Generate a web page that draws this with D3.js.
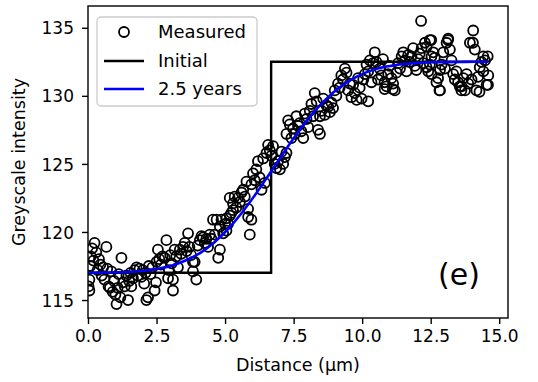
<!DOCTYPE html>
<html><head><meta charset="utf-8">
<script src="https://cdn.jsdelivr.net/npm/d3@7"></script>
<style>body{margin:0;background:#fff}svg{display:block}text{font-family:"DejaVu Sans",sans-serif;fill:#000}</style>
</head><body><svg id="c" width="538" height="382"></svg>
<script>
const measuredX = [0.02,0.05,0.05,0.08,0.1,0.15,0.24,0.2,0.3,0.35,0.4,0.45,0.5,0.55,0.6,0.67,0.7,0.75,0.8,0.85,0.9,0.95,1.0,1.04,1.08,1.12,1.18,1.22,1.28,1.34,1.4,1.46,1.5,
1.55,1.58,1.64,1.7,1.77,1.82,1.88,1.95,2.0,2.05,2.1,2.13,2.19,2.22,2.28,2.35,2.43,2.48,2.5,2.55,2.6,2.66,2.72,2.8,2.86,2.92,2.95,
3.0,3.05,3.1,3.1,3.16,3.22,3.28,3.35,3.4,3.47,3.53,3.6,3.65,3.7,3.76,3.83,3.83,3.89,3.95,4.0,4.08,4.14,4.2,4.26,4.32,4.38,4.44,4.5,
4.56,4.62,4.69,4.75,4.81,4.81,4.87,4.93,5.0,5.05,5.05,5.11,5.17,5.17,5.23,5.29,5.29,5.35,5.41,5.47,5.54,5.6,5.66,5.72,5.78,5.84,5.84,5.9,5.96,5.96,6.02,
6.08,6.14,6.2,6.26,6.33,6.39,6.45,6.51,6.57,6.63,6.69,6.75,6.81,6.87,6.93,7.0,7.06,7.12,7.18,7.24,7.24,7.3,7.36,7.42,7.48,
7.54,7.6,7.66,7.72,7.78,7.85,7.91,7.97,8.03,8.09,8.15,8.21,8.27,8.34,8.39,8.46,8.46,8.52,8.58,8.64,8.7,8.76,8.82,8.88,8.94,
9.0,9.06,9.12,9.18,9.24,9.3,9.37,9.43,9.49,9.55,9.61,9.67,9.73,9.8,9.85,9.91,9.98,10.04,10.1,10.16,10.22,10.22,10.28,10.34,10.4,10.46,
10.52,10.58,10.64,10.7,10.76,10.82,10.82,10.89,10.95,11.0,11.07,11.12,11.13,11.19,11.25,11.31,11.38,11.44,11.5,11.56,11.62,11.68,11.74,11.8,11.86,11.92,11.98,
12.04,12.1,12.15,12.17,12.23,12.29,12.35,12.35,12.41,12.47,12.47,12.52,12.53,12.53,12.59,12.65,12.71,12.77,12.82,12.84,12.84,12.9,12.96,13.02,13.08,13.13,13.14,13.2,13.26,13.32,13.38,13.44,13.5,13.56,13.62,13.63,13.69,13.75,13.81,13.87,13.93,13.99,14.04,14.05,14.11,14.17,14.23,14.28,14.29,14.35,14.42,14.42,14.48,14.54,14.58,14.59,14.6];
const measuredY = [116.0,116.5,115.7,117.5,118.2,118.8,119.2,117.9,118.5,117.2,118.0,117.6,116.8,117.4,116.5,118.9,117.3,116.0,115.9,117.1,115.6,116.4,115.4,114.7,115.9,116.9,115.2,118.1,116.3,116.0,116.8,115.0,116.4,
117.0,116.0,116.6,117.2,117.4,116.8,117.3,116.7,117.2,116.2,117.0,115.0,115.2,117.5,116.9,117.4,115.7,116.3,117.8,118.7,118.0,117.6,118.2,118.1,119.4,116.6,117.2,
118.3,117.7,116.5,115.7,118.7,118.2,117.4,118.7,118.4,118.9,119.2,118.6,119.9,118.9,118.3,117.1,117.8,117.8,116.5,119.0,119.4,119.7,119.6,119.2,119.5,118.9,119.8,119.5,
120.9,119.8,120.9,118.1,118.7,120.4,120.9,119.9,120.6,121.0,120.1,120.6,122.5,121.2,121.4,122.1,121.6,122.6,121.8,122.5,122.2,122.9,123.1,122.6,123.7,121.7,121.1,119.8,120.9,123.5,124.3,
123.8,124.6,125.2,124.0,123.1,125.4,123.6,125.8,126.4,126.0,125.6,126.3,125.0,124.7,125.2,124.6,125.9,125.0,125.5,125.8,127.2,128.2,127.9,126.9,127.6,
127.2,128.5,127.8,128.0,127.4,126.9,128.7,128.3,127.7,128.9,129.4,128.5,130.2,129.6,127.5,127.2,128.5,128.9,129.8,128.6,129.3,129.2,128.8,129.5,129.1,
130.4,130.0,130.9,130.6,131.5,131.2,132.0,131.7,130.4,130.9,129.9,130.8,130.2,129.7,131.3,130.6,129.8,131.2,131.6,132.3,131.8,129.6,132.6,131.0,132.4,133.2,
132.5,131.2,132.0,131.5,132.7,131.0,130.5,130.7,131.6,132.2,131.3,130.5,130.9,130.4,131.7,132.4,132.0,132.9,133.2,132.6,131.8,133.0,132.5,132.9,133.5,132.2,131.9,
132.7,133.1,135.5,133.5,132.4,133.9,133.6,132.1,131.8,134.1,132.3,134.1,132.9,131.6,133.2,132.8,131.0,131.3,130.4,131.9,130.4,132.3,133.2,132.0,133.9,134.1,134.2,133.4,132.6,131.6,131.2,131.8,131.0,130.7,130.4,130.7,131.3,130.4,131.6,130.9,133.9,131.2,133.9,134.8,133.4,130.4,131.4,130.3,132.1,132.5,132.9,131.8,132.6,130.8,132.9,130.8,131.5];
const initialX = [0, 6.68, 6.68, 14.6];
const initialY = [117, 117, 132.5, 132.5];
const fitX = [0,0.6,1.1,1.6,2.1,2.6,3.1,3.6,4.1,4.6,5.1,5.6,6.1,6.6,7.1,7.6,8.1,8.6,9.1,9.6,10.1,10.6,11.1,11.6,12.1,12.6,13.1,13.6,14.1,14.6];
const fitY = [117.0,117.02,117.04,117.08,117.17,117.32,117.56,117.94,118.47,119.23,120.2,121.38,122.74,124.21,125.71,127.16,128.47,129.59,130.5,131.19,131.69,132.03,132.22,132.36,132.43,132.47,132.48,132.49,132.5,132.5];
const xTicks = [0,2.5,5,7.5,10,12.5,15];
const yTicks = [115,120,125,130,135];
const legendLabels = ["Measured","Initial","2.5 years"];

const svg = d3.select("#c");
const L=88,R=508,T=6,B=318;
const x = d3.scaleLinear().domain([0,15.32]).range([L,R]);
const y = d3.scaleLinear().domain([113.68,136.6]).range([B,T]);

svg.append("clipPath").attr("id","clip").append("rect").attr("x",L).attr("y",T).attr("width",R-L).attr("height",B-T);
const plot = svg.append("g").attr("clip-path","url(#clip)");
const pts = measuredX.map((v,i)=>[v,measuredY[i]]);
plot.selectAll("circle").data(pts).enter().append("circle")
  .attr("cx",d=>x(d[0])).attr("cy",d=>y(d[1])).attr("r",5)
  .attr("fill","none").attr("stroke","#000").attr("stroke-width",1.8);
const line = d3.line().x(d=>x(d[0])).y(d=>y(d[1]));
plot.append("path").datum(initialX.map((v,i)=>[v,initialY[i]])).attr("d",line)
  .attr("fill","none").attr("stroke","#000").attr("stroke-width",2.4);
plot.append("path").datum(fitX.map((v,i)=>[v,fitY[i]])).attr("d",d3.line().curve(d3.curveMonotoneX).x(d=>x(d[0])).y(d=>y(d[1])))
  .attr("fill","none").attr("stroke","#0000ff").attr("stroke-width",2.6);

svg.append("rect").attr("x",L).attr("y",T).attr("width",R-L).attr("height",B-T)
  .attr("fill","none").attr("stroke","#000").attr("stroke-width",1.4);

const xa = svg.append("g").attr("transform",`translate(0,${B})`)
  .call(d3.axisBottom(x).tickValues(xTicks).tickFormat(d3.format(".1f")).tickSize(6).tickPadding(6));
const ya = svg.append("g").attr("transform",`translate(${L},0)`)
  .call(d3.axisLeft(y).tickValues(yTicks).tickFormat(d3.format("d")).tickSize(6).tickPadding(8));
[xa,ya].forEach(a=>{a.select(".domain").remove();
  a.selectAll("line").attr("stroke","#000").attr("stroke-width",1.4);
  a.selectAll("text").attr("font-size",17).attr("font-family","DejaVu Sans").attr("fill","#000");});
ya.selectAll("text").attr("dy","0.36em");

svg.append("text").attr("x",(L+R)/2).attr("y",371).attr("text-anchor","middle").attr("font-size",17.5).text("Distance (µm)");
svg.append("text").attr("transform",`translate(25,${(T+B)/2}) rotate(-90)`).attr("text-anchor","middle").attr("font-size",17.5).text("Greyscale intensity");
svg.append("text").attr("x",438).attr("y",285).attr("font-size",30).text("(e)");

const lg = svg.append("g");
lg.append("rect").attr("x",97).attr("y",17).attr("width",160).attr("height",89).attr("rx",4)
  .attr("fill","#fff").attr("fill-opacity",0.8).attr("stroke","#ccc").attr("stroke-width",1.3);
const rowsY=[32,61,89];
lg.append("circle").attr("cx",124).attr("cy",rowsY[0]).attr("r",5).attr("fill","none").attr("stroke","#000").attr("stroke-width",1.8);
lg.append("line").attr("x1",104).attr("x2",144).attr("y1",rowsY[1]).attr("y2",rowsY[1]).attr("stroke","#000").attr("stroke-width",2.4);
lg.append("line").attr("x1",104).attr("x2",144).attr("y1",rowsY[2]).attr("y2",rowsY[2]).attr("stroke","#0000ff").attr("stroke-width",2.6);
legendLabels.forEach((t,i)=>lg.append("text").attr("x",158).attr("y",rowsY[i]).attr("dy","0.36em").attr("font-size",18).text(t));
</script></body></html>
